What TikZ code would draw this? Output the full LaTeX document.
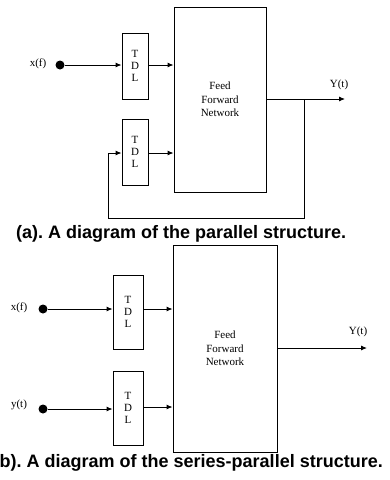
\documentclass[tikz,border=0pt]{standalone}
\usepackage{fontspec}
\setmainfont{Liberation Serif}
\setsansfont{Liberation Sans}
\usepackage{tikz}
\usetikzlibrary{positioning,arrows.meta,calc}
\definecolor{ink}{HTML}{000000}
\frenchspacing
\tikzset{
  >={Latex[length=6pt,width=5pt]},
  every node/.style={font=\fontsize{11}{13.5}\selectfont},
  % --- nodes
  blk/.style   = {draw=ink, fill=white, line width=0.9pt, align=center, inner sep=0pt},
  ffn/.style   = {blk, minimum width=92pt, minimum height=185pt},
  tdl/.style   = {blk, minimum width=26pt, minimum height=66pt,
                  font=\fontsize{11}{12}\selectfont},
  pin/.style   = {circle, fill=ink, minimum size=9pt, inner sep=0pt},
  sig/.style   = {font=\fontsize{11}{13}\selectfont, inner sep=0pt},
  caption/.style = {font=\fontsize{18}{20}\selectfont\sffamily\bfseries, inner sep=0pt},
  % --- edges
  e/.style     = {->, line width=0.9pt, draw=ink},
}
\begin{document}
\begin{tikzpicture}[x=1pt,y=-1pt]
  \useasboundingbox (0,0) rectangle (389,480);
  % (a) parallel structure
  \node[ffn] (ffnA) at (220,99.5) {Feed\\Forward\\Network};
  \node[tdl] (tdlA1) at (135,66) {T\\D\\L};
  \node[tdl] (tdlA2) at (135,152) {T\\D\\L};
  \node[pin] (inA) at (60,65) {};
  \node[sig] (xA) at (38,64) {x(f)};
  \node[sig] (yA) at (339,85) {Y(t)};
  \coordinate (outA) at (345,99);
  \coordinate (jA) at (304,99);
  \coordinate (fbA) at (108,218);
  \draw[e] (inA) -- (tdlA1.west |- inA);
  \draw[e] (tdlA1.east |- inA) -- (ffnA.west |- inA);
  \draw[e] (tdlA2.east |- 0,153) -- (ffnA.west |- 0,153);
  \draw[e] (ffnA.east |- outA) -- (outA);
  \draw[e] (jA) |- (fbA) |- (tdlA2.west |- 0,153);
  \node[caption, anchor=base west] (capA) at (16,238)
    {(a). A diagram of the parallel structure.};
  % (b) series-parallel structure
  \node[ffn, minimum width=104pt, minimum height=207pt] (ffnB) at (225,348.5)
    {Feed\\Forward\\Network};
  \node[tdl, minimum width=30pt, minimum height=74pt] (tdlB1) at (128,312) {T\\D\\L};
  \node[tdl, minimum width=30pt, minimum height=74pt] (tdlB2) at (128,408) {T\\D\\L};
  \node[pin] (inB1) at (43,309) {};
  \node[pin] (inB2) at (43,409) {};
  \node[sig] (xB) at (19,308) {x(f)};
  \node[sig] (yB) at (19,405) {y(t)};
  \node[sig] (YB) at (358,332) {Y(t)};
  \coordinate (outB) at (367,348);
  \draw[e] (inB1) -- (tdlB1.west |- inB1);
  \draw[e] (inB2) -- (tdlB2.west |- inB2);
  \draw[e] (tdlB1.east |- inB1) -- (ffnB.west |- inB1);
  \draw[e] (tdlB2.east |- 0,407) -- (ffnB.west |- 0,407);
  \draw[e] (ffnB.east |- outB) -- (outB);
  \node[caption, anchor=base east] (capB) at (383,467)
    {(b). A diagram of the series-parallel structure.};
\end{tikzpicture}
\end{document}
